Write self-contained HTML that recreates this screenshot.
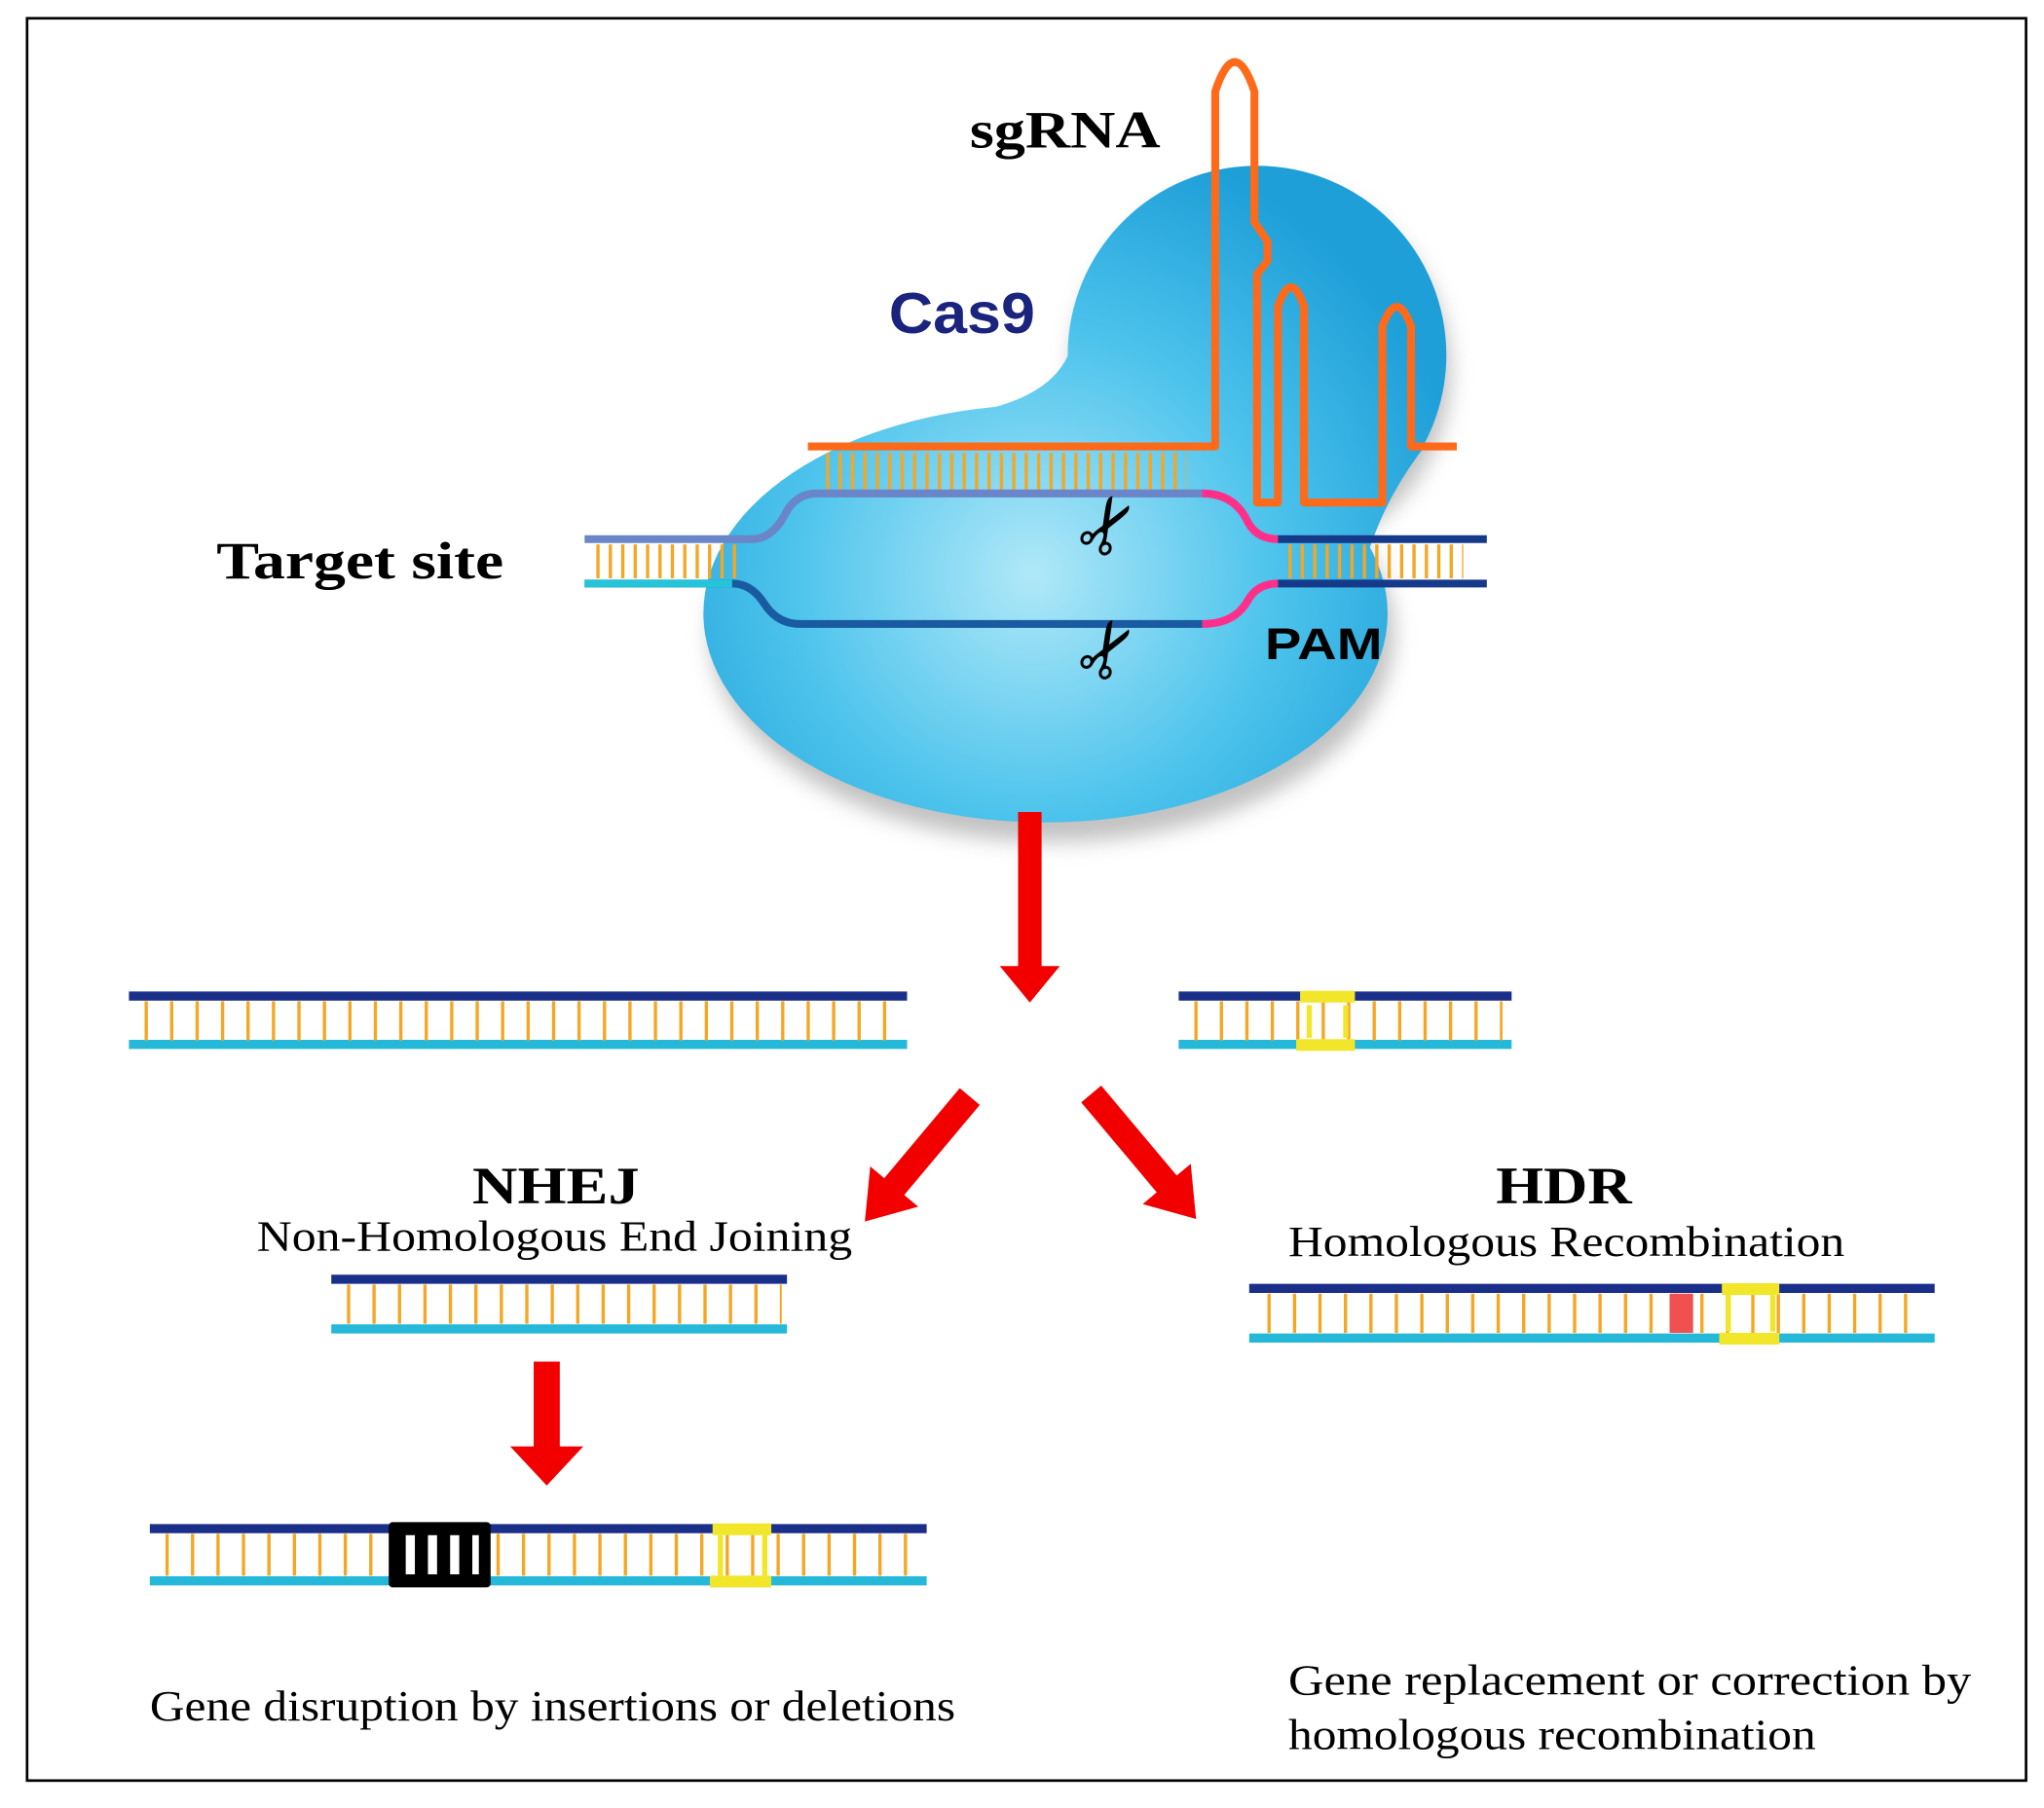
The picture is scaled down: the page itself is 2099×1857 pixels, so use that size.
<!DOCTYPE html>
<html><head><meta charset="utf-8"><style>
html,body{margin:0;padding:0;background:#fff}
svg{display:block}
.serif{font-family:"Liberation Serif",serif}
.sans{font-family:"Liberation Sans",sans-serif}
</style></head><body>
<svg width="2099" height="1857" viewBox="0 0 1564 1385" xmlns="http://www.w3.org/2000/svg">
<defs>
<radialGradient id="cg" gradientUnits="userSpaceOnUse" cx="790" cy="440" r="340">
<stop offset="0" stop-color="#b0e8f8"/><stop offset="0.55" stop-color="#4cc3ec"/><stop offset="1" stop-color="#1e9fd8"/>
</radialGradient>
<filter id="sh" x="-20%" y="-20%" width="140%" height="150%"><feGaussianBlur stdDeviation="8"/></filter>
</defs>
<rect x="20" y="14" width="1531" height="1350" fill="#fff" stroke="#000" stroke-width="2"/>

<g fill="#999" opacity="0.6" filter="url(#sh)">
<ellipse cx="805" cy="485" rx="262" ry="160"/>
<circle cx="965" cy="285" r="145"/>
</g>
<g fill="url(#cg)">
<ellipse cx="800" cy="470" rx="262" ry="160"/>
<circle cx="962" cy="272" r="145"/>
<rect x="880" y="300" width="150" height="120"/>
<path d="M822 240 Q828 305 730 318 L900 330 L880 240 Z"/>
<path d="M1030 320 L1092 340 Q1060 380 1045 430 L1030 430 Z"/>
</g>

<path d="M618 342 H930 V70 Q945 25 960 70 V170 L970 185 V200 L962 210 V385 H978 V235 Q988 205 998 235 V385 H1058 V250 Q1069 220 1080 250 V342 H1115" fill="none" stroke="#ff6a1a" stroke-width="6" stroke-linejoin="round"/>
<line x1="632" y1="362" x2="908" y2="362" stroke="#f5a623" stroke-width="30" stroke-dasharray="2.5 7"/>

<path d="M447 413 H575 Q590 413 600 395 Q608 378 625 378 H920" fill="none" stroke="#6a85c8" stroke-width="6"/>
<path d="M920 378 Q945 378 955 400 Q962 413 978 413" fill="none" stroke="#ff2f8a" stroke-width="6"/>
<line x1="978" y1="413" x2="1138" y2="413" stroke="#163a8a" stroke-width="6"/>
<path d="M447 447 H560 Q575 447 585 463 Q595 478 612 478 H920" fill="none" stroke="#1a5aa0" stroke-width="6"/>
<line x1="447" y1="447" x2="560" y2="447" stroke="#25c4d8" stroke-width="6"/>
<path d="M920 478 Q945 478 955 460 Q962 447 978 447" fill="none" stroke="#ff2f8a" stroke-width="6"/>
<line x1="978" y1="447" x2="1138" y2="447" stroke="#163a8a" stroke-width="6"/>
<line x1="456" y1="430" x2="566" y2="430" stroke="#f5a623" stroke-width="26" stroke-dasharray="2.5 7"/>
<line x1="986" y1="430" x2="1120" y2="430" stroke="#f5a623" stroke-width="26" stroke-dasharray="2.5 7"/>

<g font-size="58" class="sans" fill="#000">
<text x="820" y="418" transform="rotate(-60 850 397)">✂</text>
<text x="820" y="513" transform="rotate(-60 850 492)">✂</text>
</g>

<text x="742" y="113" class="serif" font-weight="bold" font-size="40" textLength="146" lengthAdjust="spacingAndGlyphs">sgRNA</text>
<text x="680" y="255" class="sans" font-weight="bold" font-size="44" fill="#1a237e" textLength="112" lengthAdjust="spacingAndGlyphs">Cas9</text>
<text x="165" y="443" class="serif" font-weight="bold" font-size="40" textLength="220" lengthAdjust="spacingAndGlyphs">Target site</text>
<text x="968" y="505" class="sans" font-weight="bold" font-size="34" textLength="90" lengthAdjust="spacingAndGlyphs">PAM</text>

<g fill="#f20000">
<polygon points="779,622 797,622 797,740 811,740 788,768 765,740 779,740"/>
<polygon points="408,1043 428,1043 428,1108 446,1108 418,1138 390,1108 408,1108"/>
<g transform="translate(742,840) rotate(130)"><polygon points="0,-10 90,-10 90,-24 125,0 90,24 90,10 0,10"/></g>
<g transform="translate(835,838) rotate(50)"><polygon points="0,-10 90,-10 90,-24 125,0 90,24 90,10 0,10"/></g>
</g>

<line x1="98" y1="763" x2="694" y2="763" stroke="#1a2f8a" stroke-width="7"/>
<line x1="98" y1="800" x2="694" y2="800" stroke="#25b8d8" stroke-width="7"/>
<line x1="110" y1="782" x2="690" y2="782" stroke="#f5a623" stroke-width="30" stroke-dasharray="2.5 17"/>
<line x1="902" y1="763" x2="1157" y2="763" stroke="#1a2f8a" stroke-width="7"/>
<line x1="902" y1="800" x2="1157" y2="800" stroke="#25b8d8" stroke-width="7"/>
<line x1="914" y1="782" x2="1150" y2="782" stroke="#f5a623" stroke-width="30" stroke-dasharray="2.5 17"/>
<rect x="995" y="759" width="42" height="9" fill="#f2e62a"/><rect x="992" y="796" width="45" height="9" fill="#f2e62a"/>
<line x1="1002" y1="770" x2="1002" y2="795" stroke="#f2e62a" stroke-width="4"/><line x1="1030" y1="770" x2="1030" y2="795" stroke="#f2e62a" stroke-width="4"/>

<text x="425" y="922" text-anchor="middle" class="serif" font-weight="bold" font-size="40" textLength="128" lengthAdjust="spacingAndGlyphs">NHEJ</text>
<text x="196" y="958" class="serif" font-size="33" textLength="456" lengthAdjust="spacingAndGlyphs">Non-Homologous End Joining</text>
<text x="1197" y="922" text-anchor="middle" class="serif" font-weight="bold" font-size="40" textLength="104" lengthAdjust="spacingAndGlyphs">HDR</text>
<text x="986" y="962" class="serif" font-size="33" textLength="426" lengthAdjust="spacingAndGlyphs">Homologous Recombination</text>

<line x1="253" y1="980" x2="602" y2="980" stroke="#1a2f8a" stroke-width="7"/>
<line x1="253" y1="1018" x2="602" y2="1018" stroke="#25b8d8" stroke-width="7"/>
<line x1="265" y1="999" x2="598" y2="999" stroke="#f5a623" stroke-width="30" stroke-dasharray="2.5 17"/>

<line x1="956" y1="987" x2="1481" y2="987" stroke="#1a2f8a" stroke-width="7"/>
<line x1="956" y1="1025" x2="1481" y2="1025" stroke="#25b8d8" stroke-width="7"/>
<line x1="970" y1="1006" x2="1476" y2="1006" stroke="#f5a623" stroke-width="30" stroke-dasharray="2.5 17"/>
<rect x="1278" y="991" width="18" height="30" fill="#f05050"/>
<rect x="1318" y="983" width="44" height="9" fill="#f2e62a"/><rect x="1316" y="1021" width="46" height="9" fill="#f2e62a"/>
<line x1="1323" y1="992" x2="1323" y2="1020" stroke="#f2e62a" stroke-width="4"/><line x1="1357" y1="992" x2="1357" y2="1020" stroke="#f2e62a" stroke-width="4"/>

<line x1="114" y1="1171" x2="709" y2="1171" stroke="#1a2f8a" stroke-width="7"/>
<line x1="114" y1="1211" x2="709" y2="1211" stroke="#25b8d8" stroke-width="7"/>
<line x1="126" y1="1191" x2="704" y2="1191" stroke="#f5a623" stroke-width="32" stroke-dasharray="2.5 17"/>
<rect x="297" y="1166" width="78" height="50" rx="3" fill="#000"/>
<rect x="310" y="1176" width="7" height="30" fill="#fff"/><rect x="327" y="1176" width="7" height="30" fill="#fff"/><rect x="344" y="1176" width="7" height="30" fill="#fff"/><rect x="361" y="1176" width="5" height="30" fill="#fff"/>
<rect x="545" y="1167" width="45" height="9" fill="#f2e62a"/><rect x="543" y="1207" width="47" height="9" fill="#f2e62a"/>
<line x1="551" y1="1176" x2="551" y2="1207" stroke="#f2e62a" stroke-width="4"/><line x1="585" y1="1176" x2="585" y2="1207" stroke="#f2e62a" stroke-width="4"/>

<text x="114" y="1318" class="serif" font-size="33" textLength="617" lengthAdjust="spacingAndGlyphs">Gene disruption by insertions or deletions</text>
<text x="986" y="1298" class="serif" font-size="33" textLength="523" lengthAdjust="spacingAndGlyphs">Gene replacement or correction by</text>
<text x="986" y="1340" class="serif" font-size="33" textLength="404" lengthAdjust="spacingAndGlyphs">homologous recombination</text>
</svg>
</body></html>
